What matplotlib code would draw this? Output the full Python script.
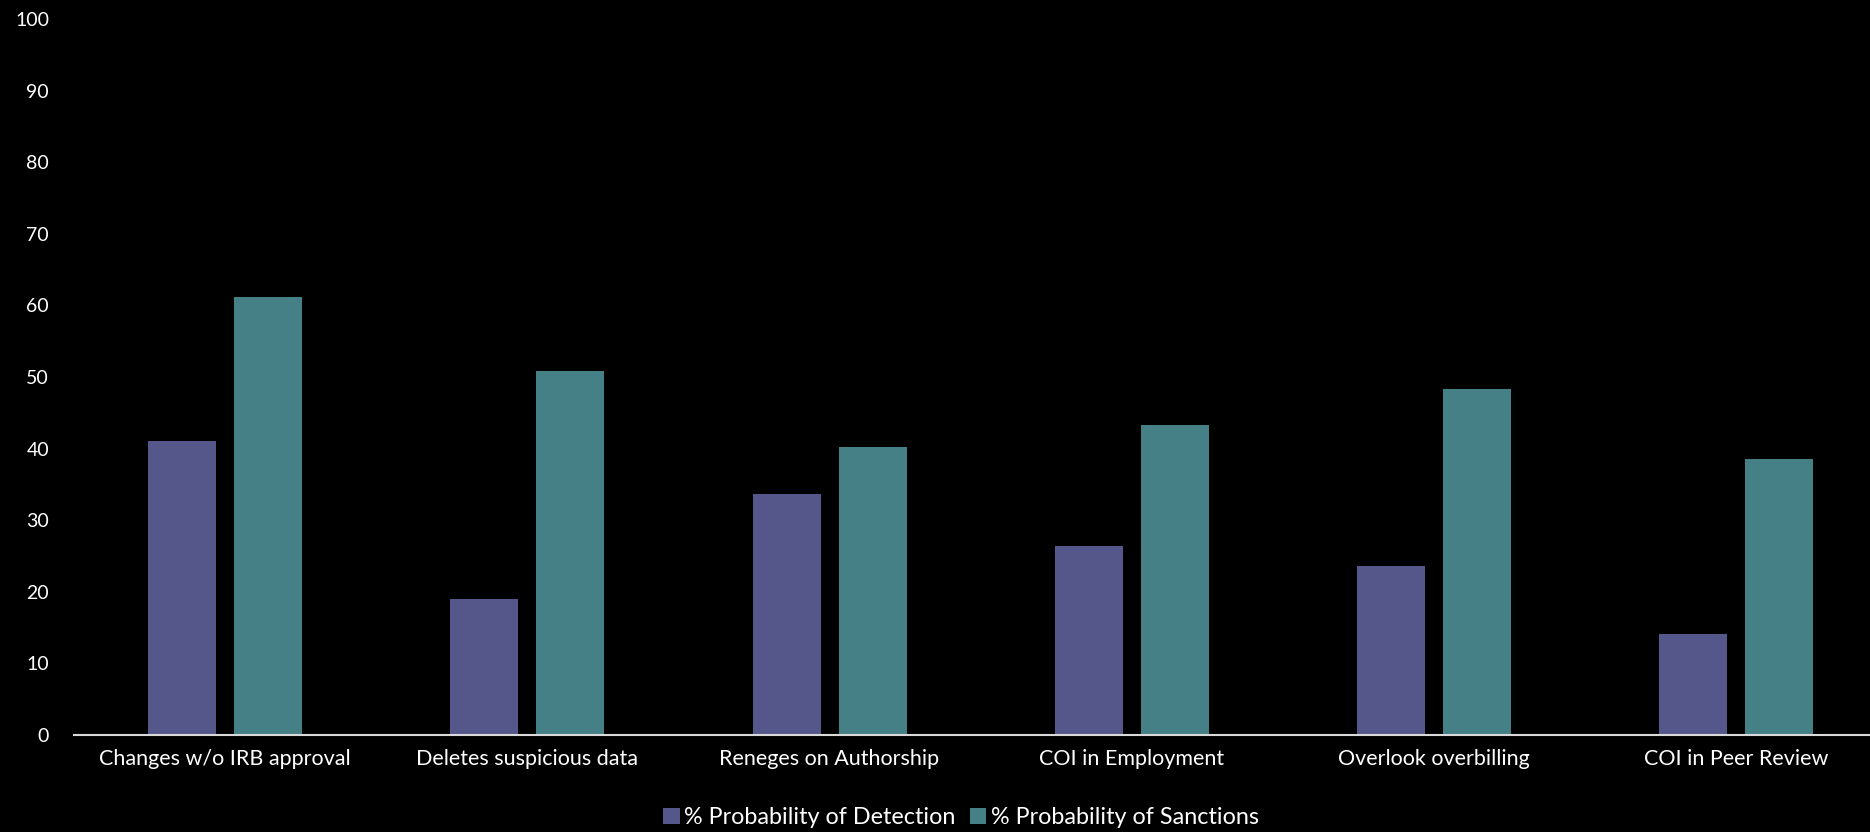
import matplotlib.pyplot as plt
import numpy as np

plt.rcParams['font.family'] = ['Lato', 'DejaVu Sans']

categories = ['Changes w/o IRB approval', 'Deletes suspicious data', 'Reneges on Authorship',
              'COI in Employment', 'Overlook overbilling', 'COI in Peer Review']
detection = [41.1, 19.0, 33.6, 26.4, 23.6, 14.1]
sanctions = [61.2, 50.9, 40.2, 43.3, 48.3, 38.5]
series_names = ['% Probability of Detection', '% Probability of Sanctions']
colors = ['#55578A', '#468087']

fig = plt.figure(figsize=(18.7, 8.32), dpi=100, facecolor='black')
# axes run a little past the right edge, as in the original slide
ax = fig.add_axes([0.0396, 0.1166, 0.9696, 0.8606])
ax.set_facecolor('black')

x = np.arange(len(categories))
w = 0.225
off = 0.1423
ax.bar(x - off, detection, w, color=colors[0], label=series_names[0])
ax.bar(x + off, sanctions, w, color=colors[1], label=series_names[1])

ax.set_xlim(-0.5, len(categories) - 0.5)
ax.set_ylim(0, 100)
ax.set_yticks(range(0, 101, 10))
ax.set_xticks(x)
ax.set_xticklabels(categories, fontsize=15.5, color='white')
ax.tick_params(axis='y', colors='white', labelsize=14, length=0, pad=18)
ax.tick_params(axis='x', length=0, pad=10)

for s in ['top', 'right', 'left']:
    ax.spines[s].set_visible(False)
ax.spines['bottom'].set_color('#d9d9d9')
ax.spines['bottom'].set_linewidth(1.5)

leg = fig.legend(loc='center', bbox_to_anchor=(0.514, 0.017), ncol=2, frameon=False,
                 fontsize=16.8, handlelength=0.7, handleheight=0.7, handletextpad=0.2,
                 columnspacing=0.6, borderaxespad=0)
for t in leg.get_texts():
    t.set_color('white')

fig.savefig('out.png', dpi=100, facecolor='black')
